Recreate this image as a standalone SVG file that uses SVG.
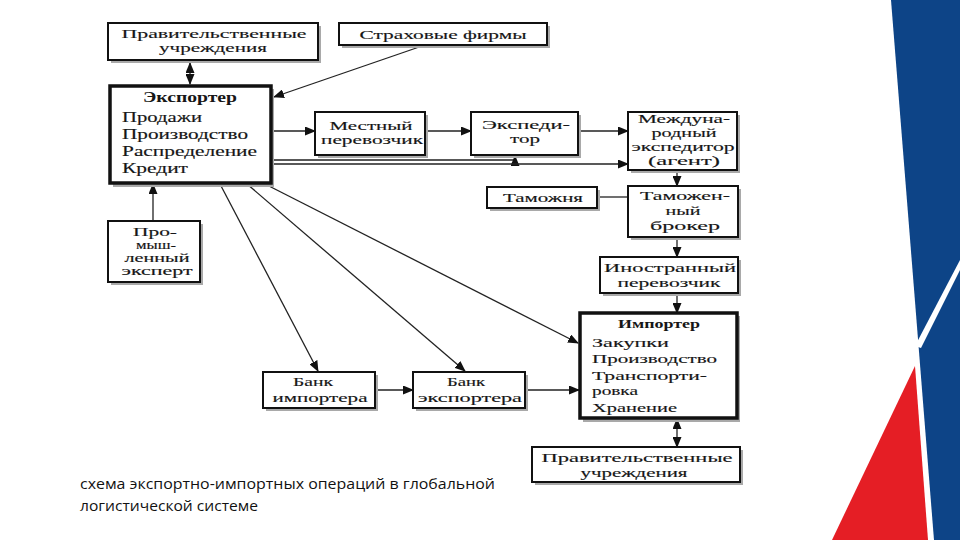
<svg xmlns="http://www.w3.org/2000/svg" width="960" height="540" viewBox="0 0 960 540">
<defs>
<marker id="ah" markerUnits="userSpaceOnUse" markerWidth="11" markerHeight="9" refX="10" refY="4.5" orient="auto-start-reverse" viewBox="0 0 11 9">
<path d="M0,0 L11,4.5 L0,9 Z" fill="#111"/>
</marker>
<style>
.bx{fill:#fff;stroke:#111;stroke-width:2}
.bk{fill:#fff;stroke:#111;stroke-width:3.5}
.sh{fill:#a9a9a9}
.t{font-family:"Liberation Serif","DejaVu Serif",serif;font-size:13px;fill:#161616;stroke:#161616;stroke-width:0.15}
.c{text-anchor:middle}
.b{font-weight:bold;stroke-width:0}
.e{font-size:14px}
.s{font-size:11.5px}
.ln{fill:none;stroke:#222;stroke-width:1.3}
.cap{font-family:"Open Sans","Noto Sans","Liberation Sans",sans-serif;font-size:14px;fill:#111}
</style>
</defs>
<rect width="960" height="540" fill="#fff"/>

<g id="decor">
<polygon points="891,0 960,0 960,540 934,540" fill="#0d4487"/>
<polygon points="960,260 960,270 921,348 915,346" fill="#fff"/>
<polygon points="915,366 928,540 832,540" fill="#e51e25"/>
</g>

<g id="connectors">
<line class="ln" x1="190" y1="63" x2="190" y2="84" marker-start="url(#ah)" marker-end="url(#ah)"/>
<line class="ln" x1="425" y1="45" x2="274" y2="97" marker-end="url(#ah)"/>
<line class="ln" x1="272" y1="131" x2="315" y2="131" marker-end="url(#ah)"/>
<line class="ln" x1="425" y1="131" x2="471" y2="131" marker-end="url(#ah)"/>
<line class="ln" x1="578" y1="131" x2="628" y2="131" marker-end="url(#ah)"/>
<path class="ln" d="M272,160 H515 V156" marker-end="url(#ah)"/>
<line class="ln" x1="272" y1="164" x2="628" y2="164" marker-end="url(#ah)"/>
<line class="ln" x1="677" y1="170" x2="677" y2="186" marker-end="url(#ah)"/>
<line class="ln" x1="597" y1="197" x2="628" y2="197"/>
<line class="ln" x1="677" y1="237" x2="677" y2="257" marker-end="url(#ah)"/>
<line class="ln" x1="677" y1="293" x2="677" y2="313" marker-end="url(#ah)"/>
<line class="ln" x1="677" y1="419" x2="677" y2="447" marker-start="url(#ah)" marker-end="url(#ah)"/>
<line class="ln" x1="153" y1="221" x2="153" y2="184" marker-end="url(#ah)"/>
<line class="ln" x1="220" y1="184" x2="318" y2="371" marker-end="url(#ah)"/>
<line class="ln" x1="247" y1="184" x2="465" y2="371" marker-end="url(#ah)"/>
<line class="ln" x1="265" y1="184" x2="578" y2="343" marker-end="url(#ah)"/>
<line class="ln" x1="375" y1="390" x2="413" y2="390" marker-end="url(#ah)"/>
<line class="ln" x1="525" y1="390" x2="579" y2="390" marker-end="url(#ah)"/>
</g>

<g id="gov-top">
<rect class="sh" x="111" y="26" width="210" height="37"/>
<rect class="bx" x="108" y="23" width="210" height="37"/>
<text class="t c" x="214" y="38" textLength="185" lengthAdjust="spacingAndGlyphs">Правительственные</text>
<text class="t c" x="213" y="52" textLength="108" lengthAdjust="spacingAndGlyphs">учреждения</text>
</g>

<g id="insurance">
<rect class="sh" x="342" y="26" width="208" height="22"/>
<rect class="bx" x="339" y="23" width="208" height="22"/>
<text class="t c" x="443" y="39" textLength="167" lengthAdjust="spacingAndGlyphs">Страховые фирмы</text>
</g>

<g id="exporter">
<rect class="sh" x="113" y="89" width="161" height="98"/>
<rect class="bk" x="110" y="86" width="161" height="97"/>
<text class="t c b e" x="190" y="102" textLength="94" lengthAdjust="spacingAndGlyphs">Экспортер</text>
<text class="t e" x="122" y="122" textLength="80" lengthAdjust="spacingAndGlyphs">Продажи</text>
<text class="t e" x="122" y="139" textLength="126" lengthAdjust="spacingAndGlyphs">Производство</text>
<text class="t e" x="122" y="156" textLength="135" lengthAdjust="spacingAndGlyphs">Распределение</text>
<text class="t e" x="122" y="173" textLength="66" lengthAdjust="spacingAndGlyphs">Кредит</text>
</g>

<g id="local-carrier">
<rect class="sh" x="318" y="115" width="110" height="43"/>
<rect class="bx" x="315" y="112" width="110" height="43"/>
<text class="t c" x="371" y="130" textLength="83" lengthAdjust="spacingAndGlyphs">Местный</text>
<text class="t c" x="372" y="144" textLength="102" lengthAdjust="spacingAndGlyphs">перевозчик</text>
</g>

<g id="forwarder">
<rect class="sh" x="474" y="115" width="107" height="43"/>
<rect class="bx" x="471" y="112" width="107" height="43"/>
<text class="t c" x="526" y="129" textLength="88" lengthAdjust="spacingAndGlyphs">Экспеди-</text>
<text class="t c" x="525" y="143" textLength="30" lengthAdjust="spacingAndGlyphs">тор</text>
</g>

<g id="intl-forwarder">
<rect class="sh" x="631" y="115" width="109" height="58"/>
<rect class="bx" x="628" y="112" width="109" height="58"/>
<text class="t c" x="684" y="123" textLength="92" lengthAdjust="spacingAndGlyphs">Междуна-</text>
<text class="t c" x="684" y="137" textLength="65" lengthAdjust="spacingAndGlyphs">родный</text>
<text class="t c" x="683" y="151" textLength="103" lengthAdjust="spacingAndGlyphs">экспедитор</text>
<text class="t c" x="684" y="165" textLength="72" lengthAdjust="spacingAndGlyphs">(агент)</text>
</g>

<g id="customs">
<rect class="sh" x="490" y="190" width="110" height="21"/>
<rect class="bx" x="487" y="187" width="110" height="21"/>
<text class="t c" x="543" y="202" textLength="80" lengthAdjust="spacingAndGlyphs">Таможня</text>
</g>

<g id="customs-broker">
<rect class="sh" x="631" y="189" width="110" height="51"/>
<rect class="bx" x="628" y="186" width="110" height="51"/>
<text class="t c" x="685" y="200" textLength="90" lengthAdjust="spacingAndGlyphs">Таможен-</text>
<text class="t c" x="683" y="215" textLength="35" lengthAdjust="spacingAndGlyphs">ный</text>
<text class="t c" x="685" y="230" textLength="70" lengthAdjust="spacingAndGlyphs">брокер</text>
</g>

<g id="foreign-carrier">
<rect class="sh" x="603" y="260" width="138" height="36"/>
<rect class="bx" x="600" y="257" width="138" height="36"/>
<text class="t c" x="670" y="272" textLength="132" lengthAdjust="spacingAndGlyphs">Иностранный</text>
<text class="t c" x="669" y="287" textLength="103" lengthAdjust="spacingAndGlyphs">перевозчик</text>
</g>

<g id="industry-expert">
<rect class="sh" x="111" y="224" width="92" height="61"/>
<rect class="bx" x="108" y="221" width="92" height="61"/>
<text class="t c s" x="155" y="236" textLength="44" lengthAdjust="spacingAndGlyphs">Про-</text>
<text class="t c s" x="156" y="249" textLength="40" lengthAdjust="spacingAndGlyphs">мыш-</text>
<text class="t c s" x="157" y="262" textLength="65" lengthAdjust="spacingAndGlyphs">ленный</text>
<text class="t c s" x="157" y="275" textLength="71" lengthAdjust="spacingAndGlyphs">эксперт</text>
</g>

<g id="importer">
<rect class="sh" x="583" y="316" width="157" height="106"/>
<rect class="bk" x="580" y="313" width="157" height="105"/>
<text class="t c b" x="659" y="328" textLength="82" lengthAdjust="spacingAndGlyphs">Импортер</text>
<text class="t" x="592" y="347" textLength="77" lengthAdjust="spacingAndGlyphs">Закупки</text>
<text class="t" x="592" y="363" textLength="125" lengthAdjust="spacingAndGlyphs">Производство</text>
<text class="t" x="592" y="380" textLength="115" lengthAdjust="spacingAndGlyphs">Транспорти-</text>
<text class="t" x="592" y="395" textLength="46" lengthAdjust="spacingAndGlyphs">ровка</text>
<text class="t" x="592" y="412" textLength="85" lengthAdjust="spacingAndGlyphs">Хранение</text>
</g>

<g id="importer-bank">
<rect class="sh" x="266" y="375" width="112" height="36"/>
<rect class="bx" x="263" y="372" width="112" height="36"/>
<text class="t c" x="313" y="386" textLength="40" lengthAdjust="spacingAndGlyphs">Банк</text>
<text class="t c" x="320" y="402" textLength="95" lengthAdjust="spacingAndGlyphs">импортера</text>
</g>

<g id="exporter-bank">
<rect class="sh" x="416" y="375" width="112" height="36"/>
<rect class="bx" x="413" y="372" width="112" height="36"/>
<text class="t c" x="466" y="386" textLength="38" lengthAdjust="spacingAndGlyphs">Банк</text>
<text class="t c" x="470" y="402" textLength="104" lengthAdjust="spacingAndGlyphs">экспортера</text>
</g>

<g id="gov-bottom">
<rect class="sh" x="535" y="450" width="208" height="35"/>
<rect class="bx" x="532" y="447" width="208" height="35"/>
<text class="t c" x="637" y="462" textLength="191" lengthAdjust="spacingAndGlyphs">Правительственные</text>
<text class="t c" x="634" y="477" textLength="107" lengthAdjust="spacingAndGlyphs">учреждения</text>
</g>

<g id="caption">
<text class="cap" x="80" y="489" textLength="415" lengthAdjust="spacingAndGlyphs">схема экспортно-импортных операций в глобальной</text>
<text class="cap" x="80" y="511" textLength="178" lengthAdjust="spacingAndGlyphs">логистической системе</text>
</g>
</svg>
